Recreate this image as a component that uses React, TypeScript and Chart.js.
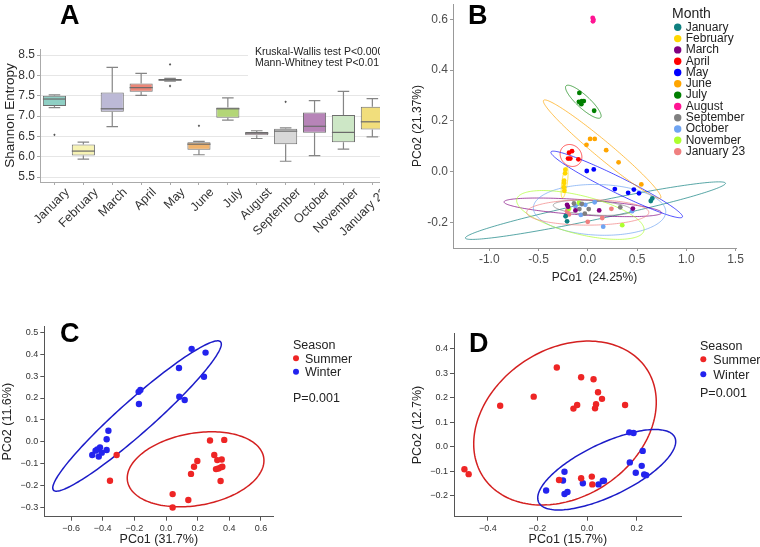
import React, { useEffect, useRef } from 'react';
import { Chart, registerables } from 'chart.js';
Chart.register(...registerables);

const SANS = "'Liberation Sans', Arial, Helvetica, sans-serif";

// ---------------- Panel A : Shannon entropy boxplots ----------------
const A_CATEGORIES = ['January', 'February', 'March', 'April', 'May', 'June', 'July', 'August', 'September', 'October', 'November', 'January 23'];
const A_MIN = [7.21, 5.94, 6.74, 7.51, 7.86, 6.05, 6.90, 6.45, 5.89, 6.03, 6.19, 6.49];
const A_Q1 = [7.25, 6.03, 7.11, 7.60, 7.87, 6.17, 6.96, 6.53, 6.31, 6.59, 6.36, 6.67];
const A_MEDIAN = [7.42, 6.14, 7.18, 7.70, 7.89, 6.31, 7.18, 6.58, 6.63, 6.75, 6.60, 6.86];
const A_Q3 = [7.50, 6.30, 7.58, 7.80, 7.91, 6.36, 7.21, 6.61, 6.69, 7.09, 7.03, 7.23];
const A_MAX = [7.52, 6.36, 8.20, 8.05, 7.93, 6.38, 7.45, 6.64, 6.71, 7.38, 7.61, 7.43];
const A_OUTLIERS = [[6.54], [], [], [], [8.27, 7.74], [6.76], [], [], [7.35], [], [], []];
const A_Y_TICKS = [5.5, 6.0, 6.5, 7.0, 7.5, 8.0, 8.5];
const A_COLORS = ['#8fcfc4', '#f7f3b4', '#bcb9d6', '#ec8677', '#7fa6c2', '#f0b36d', '#b3d677', '#f2cfe0', '#d8d8d8', '#b784b8', '#cde7c6', '#f1de7c'];
const A_TESTS = ['Kruskal-Wallis test P<0.0001', 'Mann-Whitney test P<0.01'];

// ---------------- Panel B : PCoA by month ----------------
const B_MONTHS = ['January', 'February', 'March', 'April', 'May', 'June', 'July', 'August', 'September', 'October', 'November', 'January 23'];
const B_COLORS = ['#0f8080', '#ffd700', '#800080', '#ff0000', '#0000ff', '#ffa500', '#007f00', '#ff1493', '#808080', '#6fa4f2', '#adff2f', '#f08080'];
const B_JANUARY = [[0.655, -0.105], [0.64, -0.115], [-0.21, -0.195], [-0.225, -0.175]];
const B_FEBRUARY = [[-0.227, 0.008], [-0.23, -0.006], [-0.24, -0.035], [-0.24, -0.044], [-0.242, -0.061], [-0.238, -0.075]];
const B_MARCH = [[-0.21, -0.13], [-0.2, -0.138], [-0.125, -0.152], [0.116, -0.152], [0.458, -0.145]];
const B_APRIL = [[-0.19, 0.075], [-0.16, 0.081], [-0.2, 0.052], [-0.177, 0.052], [-0.095, 0.049]];
const B_MAY = [[-0.01, 0.003], [0.061, 0.009], [0.275, -0.068], [0.41, -0.083], [0.468, -0.07], [0.52, -0.085]];
const B_JUNE = [[0.024, 0.129], [0.071, 0.129], [-0.013, 0.106], [0.187, 0.085], [0.313, 0.037], [0.544, -0.05]];
const B_JULY = [[-0.085, 0.31], [-0.09, 0.275], [-0.06, 0.278], [-0.04, 0.278], [-0.065, 0.266], [0.065, 0.24]];
const B_AUGUST = [[0.05, 0.605], [0.058, 0.598], [0.053, 0.592]];
const B_SEPTEMBER = [[-0.14, -0.125], [-0.085, -0.147], [0.01, -0.147], [-0.03, -0.165], [0.33, -0.14], [-0.06, -0.126]];
const B_OCTOBER = [[-0.125, -0.135], [-0.06, -0.128], [-0.025, -0.13], [0.07, -0.12], [-0.07, -0.17], [0.157, -0.216], [0.45, -0.155]];
const B_NOVEMBER = [[-0.09, -0.123], [-0.19, -0.146], [0.35, -0.21]];
const B_JANUARY23 = [[-0.21, -0.155], [-0.19, -0.168], [0.0, -0.197], [0.147, -0.182], [0.24, -0.146]];
const B_POINTS = [B_JANUARY, B_FEBRUARY, B_MARCH, B_APRIL, B_MAY, B_JUNE, B_JULY, B_AUGUST, B_SEPTEMBER, B_OCTOBER, B_NOVEMBER, B_JANUARY23];
// ellipse: centre x, centre y, first half-axis (x,y), second half-axis (x,y)
const B_ELLIPSES = [
  [0.078, -0.153, 1.32, 0.108, 0.019, -0.034],
  [-0.235, -0.042, 0.02, 0.061, 0.029, 0.002],
  [-0.05, -0.14, 0.8, -0.021, 0.0, 0.03],
  [-0.17, 0.064, 0.11, -0.01, 0.01, 0.042],
  [0.294, -0.05, 0.667, -0.128, -0.037, -0.028],
  [0.146, 0.089, 0.594, -0.192, -0.056, -0.025],
  [-0.045, 0.2755, 0.175, -0.0625, -0.045, -0.018],
  [0.054, 0.598, 0.01, 0.012, 0.006, -0.004],
  [0.05, -0.142, 0.4, -0.01, 0.0, 0.028],
  [0.12, -0.15, 0.67, 0.0, -0.05, 0.1],
  [-0.075, -0.17, 0.645, -0.0625, -0.049, -0.073],
  [0.0, -0.16, 0.62, 0.0, 0.0, 0.05],
];
const B_X_TICKS = [-1.0, -0.5, 0.0, 0.5, 1.0, 1.5];
const B_Y_TICKS = [-0.2, 0.0, 0.2, 0.4, 0.6];

// ---------------- Panel C : PCoA by season ----------------
const C_SUMMER = [[-0.312, -0.06], [-0.354, -0.177], [0.278, 0.006], [0.368, 0.009], [0.305, -0.06], [0.324, -0.083], [0.352, -0.08], [0.331, -0.121], [0.347, -0.116], [0.316, -0.124], [0.356, -0.113], [0.345, -0.178], [0.198, -0.087], [0.177, -0.113], [0.158, -0.146], [0.042, -0.238], [0.141, -0.265], [0.042, -0.299]];
const C_WINTER = [[0.162, 0.424], [0.25, 0.407], [0.082, 0.337], [0.24, 0.297], [-0.173, 0.228], [-0.162, 0.237], [-0.171, 0.173], [0.084, 0.206], [0.118, 0.191], [-0.364, 0.051], [-0.375, 0.012], [-0.375, -0.037], [-0.417, -0.025], [-0.434, -0.034], [-0.445, -0.04], [-0.466, -0.06], [-0.425, -0.067], [-0.406, -0.049]];
const C_ELLIPSE_SUMMER = [0.187, -0.125, 0.43, 0.055, 0.04, -0.162];
const C_ELLIPSE_WINTER = [-0.183, 0.118, 0.528, 0.338, 0.07, -0.056];
const C_X_TICKS = [-0.6, -0.4, -0.2, 0.0, 0.2, 0.4, 0.6];
const C_Y_TICKS = [-0.3, -0.2, -0.1, 0.0, 0.1, 0.2, 0.3, 0.4, 0.5];

// ---------------- Panel D : PCoA by season ----------------
const D_SUMMER = [[-0.122, 0.324], [-0.024, 0.284], [0.026, 0.276], [0.044, 0.223], [0.06, 0.196], [-0.215, 0.205], [-0.35, 0.168], [-0.055, 0.156], [-0.04, 0.171], [0.036, 0.174], [0.032, 0.157], [0.153, 0.171], [-0.494, -0.092], [-0.477, -0.112], [-0.113, -0.136], [-0.024, -0.129], [0.019, -0.122], [0.021, -0.154]];
const D_WINTER = [[0.17, 0.059], [0.187, 0.056], [0.224, -0.017], [0.172, -0.064], [0.22, -0.078], [0.196, -0.106], [0.23, -0.113], [0.238, -0.116], [-0.091, -0.102], [-0.097, -0.138], [-0.165, -0.179], [-0.091, -0.193], [-0.079, -0.185], [-0.017, -0.149], [0.046, -0.154], [0.063, -0.14], [0.068, -0.139]];
const D_ELLIPSE_SUMMER = [-0.089, 0.097, 0.329, 0.221, 0.164, -0.252];
const D_ELLIPSE_WINTER = [0.079, -0.094, 0.274, 0.133, 0.046, -0.097];
const D_X_TICKS = [-0.4, -0.2, 0.0, 0.2];
const D_Y_TICKS = [-0.2, -0.1, 0.0, 0.1, 0.2, 0.3, 0.4];

const SEASONS = ['Summer', 'Winter'];
const SEASON_COLORS = ['#ee2525', '#2323ee'];
const SEASON_LINE_COLORS = ['#d42020', '#1c1cc8'];

// ---------------- helpers ----------------
const fixedTicks = (vals: number[]) => (s: any) => { s.ticks = vals.map((v) => ({ value: v })); };
const toXY = (pts: number[][]) => pts.map(([x, y]) => ({ x, y }));

function ellipsePlugin(list: { p: number[]; color: string; width: number }[]) {
  return {
    id: 'ellipses',
    beforeDatasetsDraw(chart: any) {
      const { ctx } = chart;
      const xs = chart.scales.x, ys = chart.scales.y;
      ctx.save();
      for (const e of list) {
        const [cx, cy, ax, ay, bx, by] = e.p;
        ctx.beginPath();
        const N = 180;
        for (let i = 0; i <= N; i++) {
          const t = (i / N) * Math.PI * 2;
          const vx = cx + Math.cos(t) * ax + Math.sin(t) * bx;
          const vy = cy + Math.cos(t) * ay + Math.sin(t) * by;
          const px = xs.getPixelForValue(vx), py = ys.getPixelForValue(vy);
          if (i === 0) ctx.moveTo(px, py); else ctx.lineTo(px, py);
        }
        ctx.closePath();
        ctx.strokeStyle = e.color;
        ctx.lineWidth = e.width;
        ctx.stroke();
      }
      ctx.restore();
    },
  };
}

function decorPlugin(draw: (ctx: CanvasRenderingContext2D, chart: any) => void) {
  return { id: 'decor', afterDraw(chart: any) { const ctx = chart.ctx; ctx.save(); draw(ctx, chart); ctx.restore(); } };
}

const boxPlugin = {
  id: 'boxExtras',
  afterDatasetsDraw(chart: any) {
    const ctx = chart.ctx;
    const ys = chart.scales.y;
    const meta = chart.getDatasetMeta(0);
    ctx.save();
    meta.data.forEach((bar: any, i: number) => {
      const cx = bar.x;
      const w = bar.width;
      const yq1 = ys.getPixelForValue(A_Q1[i]);
      const yq3 = ys.getPixelForValue(A_Q3[i]);
      const ymin = ys.getPixelForValue(A_MIN[i]);
      const ymax = ys.getPixelForValue(A_MAX[i]);
      const ymed = ys.getPixelForValue(A_MEDIAN[i]);
      ctx.strokeStyle = '#858585';
      ctx.lineWidth = 1.2;
      ctx.beginPath();
      ctx.moveTo(cx, yq3); ctx.lineTo(cx, ymax);
      ctx.moveTo(cx - w / 4, ymax); ctx.lineTo(cx + w / 4, ymax);
      ctx.moveTo(cx, yq1); ctx.lineTo(cx, ymin);
      ctx.moveTo(cx - w / 4, ymin); ctx.lineTo(cx + w / 4, ymin);
      ctx.stroke();
      ctx.strokeStyle = '#6a6a6a';
      ctx.beginPath();
      ctx.moveTo(cx - w / 2, ymed); ctx.lineTo(cx + w / 2, ymed);
      ctx.stroke();
      ctx.fillStyle = '#555';
      for (const o of A_OUTLIERS[i]) {
        const oy = ys.getPixelForValue(o);
        ctx.beginPath();
        ctx.moveTo(cx, oy - 1.4); ctx.lineTo(cx + 1.2, oy); ctx.lineTo(cx, oy + 1.4); ctx.lineTo(cx - 1.2, oy);
        ctx.closePath(); ctx.fill();
      }
    });
    ctx.restore();
  },
};

function panelLetter(ctx: CanvasRenderingContext2D, letter: string, x: number, y: number) {
  ctx.font = `bold 27px ${SANS}`;
  ctx.fillStyle = '#000';
  ctx.textAlign = 'left';
  ctx.textBaseline = 'alphabetic';
  ctx.fillText(letter, x, y);
}

function seasonLegend(ctx: CanvasRenderingContext2D, x: number, dotX: number, textX: number, titleY: number, rowsY: number[], pY: number) {
  ctx.fillStyle = '#222';
  ctx.textBaseline = 'middle';
  ctx.textAlign = 'left';
  ctx.font = `12.5px ${SANS}`;
  ctx.fillText('Season', x, titleY);
  SEASONS.forEach((s, i) => {
    ctx.fillStyle = SEASON_COLORS[i];
    ctx.beginPath(); ctx.arc(dotX, rowsY[i], 3, 0, Math.PI * 2); ctx.fill();
    ctx.fillStyle = '#222';
    ctx.fillText(s, textX, rowsY[i] + 1);
  });
  ctx.fillText('P=0.001', x, pY);
}

// ---------------- chart configs ----------------
function configA(): any {
  return {
    type: 'bar',
    data: {
      labels: A_CATEGORIES,
      datasets: [{
        data: A_Q1.map((q, i) => [q, A_Q3[i]]),
        backgroundColor: A_COLORS,
        borderColor: '#6e6e6e',
        borderWidth: 1,
        borderSkipped: false,
        barPercentage: 0.8,
        categoryPercentage: 1,
      }],
    },
    options: {
      responsive: false, animation: false, devicePixelRatio: 1, events: [],
      layout: { padding: { left: 0, top: 49, right: 8.2, bottom: 0 } },
      plugins: { legend: { display: false }, tooltip: { enabled: false } },
      scales: {
        x: {
          type: 'category', offset: true,
          grid: { offset: false, drawOnChartArea: false, tickLength: 3, color: '#aaa' },
          border: { color: '#aaa' },
          ticks: { minRotation: 45, maxRotation: 45, autoSkip: false, labelOffset: 13, font: { family: SANS, size: 12.5 }, color: '#333', padding: 0 },
          afterFit: (s: any) => { s.height = 88; s.paddingLeft = 0; s.paddingRight = 0; },
        },
        y: {
          type: 'linear', min: 5.38, max: 8.65,
          afterBuildTicks: fixedTicks(A_Y_TICKS),
          ticks: { callback: (v: any) => Number(v).toFixed(1), font: { family: SANS, size: 12 }, color: '#333', padding: 2 },
          grid: { color: '#e6e6e6', tickColor: '#aaa', tickLength: 3 },
          border: { color: '#aaa' },
          title: { display: true, text: 'Shannon Entropy', font: { family: SANS, size: 13.5 }, color: '#222', padding: { top: 2, bottom: 0 } },
          afterFit: (s: any) => { s.width = 40; s.paddingTop = 0; s.paddingBottom = 0; },
        },
      },
    },
    plugins: [boxPlugin, decorPlugin((ctx) => {
      panelLetter(ctx, 'A', 60, 24);
      ctx.fillStyle = '#fff';
      ctx.fillRect(248, 42, 150, 36);
      ctx.fillStyle = '#222';
      ctx.font = `10.5px ${SANS}`;
      ctx.textBaseline = 'middle';
      ctx.textAlign = 'left';
      ctx.fillText(A_TESTS[0], 255, 51.7);
      ctx.fillText(A_TESTS[1], 255, 63.3);
    })],
  };
}

function configB(): any {
  return {
    type: 'scatter',
    data: {
      datasets: B_POINTS.map((pts, i) => ({
        label: B_MONTHS[i], data: toXY(pts), backgroundColor: B_COLORS[i], borderWidth: 0, pointRadius: 2.4,
      })),
    },
    options: {
      responsive: false, animation: false, devicePixelRatio: 1, events: [],
      layout: { padding: { left: 0, top: 0, right: 24, bottom: 4.8 } },
      plugins: { legend: { display: false }, tooltip: { enabled: false } },
      scales: {
        x: {
          type: 'linear', min: -1.368, max: 1.505,
          afterBuildTicks: fixedTicks(B_X_TICKS),
          ticks: { callback: (v: any) => Number(v).toFixed(1), font: { family: SANS, size: 12 }, color: '#4d4d4d', padding: 1 },
          grid: { drawOnChartArea: false, tickLength: 3, color: '#999' },
          border: { color: '#999' },
          title: { display: true, text: 'PCo1  (24.25%)', font: { family: SANS, size: 12 }, color: '#222', padding: { top: 0, bottom: 0 } },
          afterFit: (s: any) => { s.height = 37.2; s.paddingLeft = 0; s.paddingRight = 0; },
        },
        y: {
          type: 'linear', min: -0.3, max: 0.66,
          afterBuildTicks: fixedTicks(B_Y_TICKS),
          ticks: { callback: (v: any) => Number(v).toFixed(1), font: { family: SANS, size: 12 }, color: '#4d4d4d', padding: 2 },
          grid: { drawOnChartArea: false, tickLength: 3, color: '#999' },
          border: { color: '#999' },
          title: { display: true, text: 'PCo2 (21.37%)', font: { family: SANS, size: 12 }, color: '#222', padding: { top: 30.8, bottom: 0 } },
          afterFit: (s: any) => { s.width = 73; s.paddingTop = 0; s.paddingBottom = 0; },
        },
      },
    },
    plugins: [
      ellipsePlugin(B_ELLIPSES.map((p, i) => ({ p, color: B_COLORS[i] + 'b0', width: 1 }))),
      decorPlugin((ctx) => {
        panelLetter(ctx, 'B', 88, 23.5);
        ctx.fillStyle = '#222';
        ctx.textAlign = 'left';
        ctx.textBaseline = 'middle';
        ctx.font = `14px ${SANS}`;
        ctx.fillText('Month', 292, 14.5);
        ctx.font = `12px ${SANS}`;
        B_MONTHS.forEach((m, i) => {
          const y = 27.3 + 11.3 * i;
          ctx.fillStyle = B_COLORS[i];
          ctx.beginPath(); ctx.arc(297.7, y, 3.7, 0, Math.PI * 2); ctx.fill();
          ctx.fillStyle = '#222';
          ctx.fillText(m, 305.7, y);
        });
      }),
    ],
  };
}

function seasonConfig(opts: any): any {
  const minus = (v: any) => Number(v).toFixed(1).replace('-', '\u2212');
  return {
    type: 'scatter',
    data: {
      datasets: [opts.summer, opts.winter].map((pts: number[][], i: number) => ({
        label: SEASONS[i], data: toXY(pts), backgroundColor: SEASON_COLORS[i], borderWidth: 0, pointRadius: 3.2,
      })),
    },
    options: {
      responsive: false, animation: false, devicePixelRatio: 1, events: [],
      layout: { padding: opts.padding },
      plugins: { legend: { display: false }, tooltip: { enabled: false } },
      scales: {
        x: {
          type: 'linear', min: opts.xRange[0], max: opts.xRange[1],
          afterBuildTicks: fixedTicks(opts.xTicks),
          ticks: { callback: minus, font: { family: SANS, size: 9 }, color: '#333', padding: 2 },
          grid: { drawOnChartArea: false, tickLength: 4, color: '#555' },
          border: { color: '#555' },
          title: { display: true, text: opts.xTitle, font: { family: SANS, size: 12.5 }, color: '#222', padding: { top: 0, bottom: 0 } },
          afterFit: (s: any) => { s.height = 30.3; s.paddingLeft = 0; s.paddingRight = 0; },
        },
        y: {
          type: 'linear', min: opts.yRange[0], max: opts.yRange[1],
          afterBuildTicks: fixedTicks(opts.yTicks),
          ticks: { callback: minus, font: { family: SANS, size: 9 }, color: '#333', padding: 2 },
          grid: { drawOnChartArea: false, tickLength: 4, color: '#555' },
          border: { color: '#555' },
          title: { display: true, text: opts.yTitle, font: { family: SANS, size: 12.5 }, color: '#222', padding: { top: opts.yTitlePad, bottom: 0 } },
          afterFit: (s: any) => { s.width = opts.yWidth; s.paddingTop = 0; s.paddingBottom = 0; },
        },
      },
    },
    plugins: [
      ellipsePlugin([
        { p: opts.ellSummer, color: SEASON_LINE_COLORS[0], width: 1.5 },
        { p: opts.ellWinter, color: SEASON_LINE_COLORS[1], width: 1.5 },
      ]),
      decorPlugin(opts.decor),
    ],
  };
}

const configC = () => seasonConfig({
  summer: C_SUMMER, winter: C_WINTER, ellSummer: C_ELLIPSE_SUMMER, ellWinter: C_ELLIPSE_WINTER,
  xRange: [-0.769, 0.678], yRange: [-0.341, 0.525], xTicks: C_X_TICKS, yTicks: C_Y_TICKS,
  padding: { left: 0, top: 36.7, right: 106.7, bottom: 0 }, yWidth: 44.3, yTitlePad: 0,
  xTitle: 'PCo1 (31.7%)', yTitle: 'PCo2 (11.6%)',
  decor: (ctx: CanvasRenderingContext2D) => {
    panelLetter(ctx, 'C', 60, 52);
    seasonLegend(ctx, 293, 296, 305, 56, [68.3, 81.7], 108.3);
  },
});

const configD = () => seasonConfig({
  summer: D_SUMMER, winter: D_WINTER, ellSummer: D_ELLIPSE_SUMMER, ellWinter: D_ELLIPSE_WINTER,
  xRange: [-0.536, 0.381], yRange: [-0.286, 0.464], xTicks: D_X_TICKS, yTicks: D_Y_TICKS,
  padding: { left: 0, top: 43.3, right: 78.3, bottom: 0 }, yWidth: 74, yTitlePad: 30,
  xTitle: 'PCo1 (15.7%)', yTitle: 'PCo2 (12.7%)',
  decor: (ctx: CanvasRenderingContext2D) => {
    panelLetter(ctx, 'D', 89, 62);
    seasonLegend(ctx, 320, 323.3, 333.3, 56.3, [69.3, 84.3], 104);
  },
});

function ChartBox(props: { make: () => any; left: number; top: number; width: number; height: number; clipWidth?: number }) {
  const ref = useRef<HTMLCanvasElement>(null);
  useEffect(() => {
    const chart = new Chart(ref.current as HTMLCanvasElement, props.make());
    return () => chart.destroy();
  }, []);
  const { left, top, width, height, clipWidth } = props;
  return (
    <div style={{ position: 'absolute', left, top, width: clipWidth ?? width, height, overflow: 'hidden' }}>
      <canvas ref={ref} width={width} height={height} style={{ width, height, display: 'block' }} />
    </div>
  );
}

export default function App() {
  return (
    <div style={{ position: 'absolute', left: 0, top: 0, width: 760, height: 547, background: '#fff', overflow: 'hidden' }}>
      <ChartBox make={configA} left={0} top={0} width={395} height={270} clipWidth={380} />
      <ChartBox make={configB} left={380} top={0} width={380} height={290} />
      <ChartBox make={configC} left={0} top={290} width={380} height={257} />
      <ChartBox make={configD} left={380} top={290} width={380} height={257} />
    </div>
  );
}
